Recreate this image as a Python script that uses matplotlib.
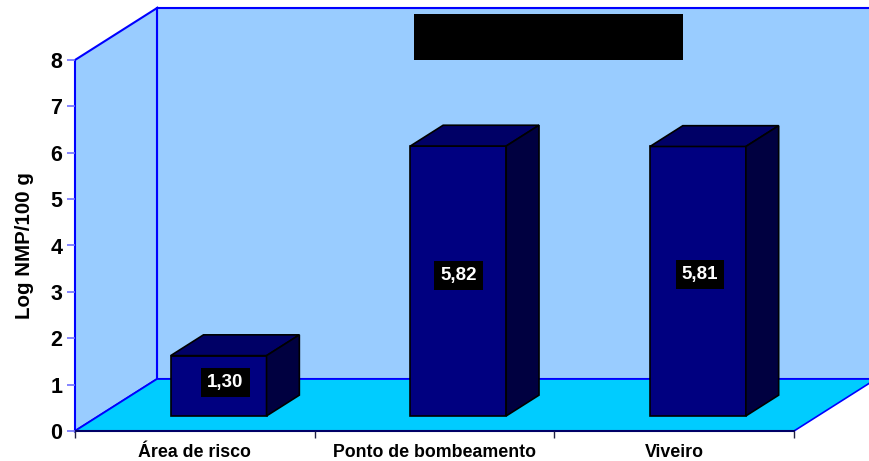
import numpy as np
import matplotlib
matplotlib.use('Agg')
import matplotlib.pyplot as plt
from matplotlib.patches import Polygon, Rectangle

plt.rcParams['font.family'] = ['Liberation Sans', 'DejaVu Sans']

# Dados do grafico
categorias = ['Área de risco', 'Ponto de bombeamento', 'Viveiro']
valores = [1.30, 5.82, 5.81]
rotulos = ['1,30', '5,82', '5,81']
yticks = [0, 1, 2, 3, 4, 5, 6, 7, 8]

# Deslocamento da profundidade em unidades dos dados
DX = 82 / 239.7
DY = 52 / 46.4
LARGURA = 0.4
Z1, Z2 = 0.29, 0.69
# ajuste dos rotulos em pontos
ajuste = [(5.0, -1.5), (0, 0), (1.5, 1)]


def proj(x, y, z):
    return (x + z * DX, y + z * DY)


def face(ax, pts, fc, ec, lw=1.2, zorder=2):
    ax.add_patch(Polygon(pts, closed=True, facecolor=fc, edgecolor=ec, linewidth=lw,
                         clip_on=False, zorder=zorder, joinstyle='miter'))


fig = plt.figure(figsize=(8.69, 4.61), dpi=100)
ax = fig.add_axes([75 / 869, 30 / 461, 719 / 869, 371 / 461])
ax.set_xlim(0, 3)
ax.set_ylim(0, 8)
ax.patch.set_visible(False)
for s in ax.spines.values():
    s.set_visible(False)

# paredes e chao
azul = '#0000ff'
face(ax, [proj(0, 0, 1), proj(3, 0, 1), proj(3, 8, 1), proj(0, 8, 1)], '#99ccff', azul, 1.5, 1)
face(ax, [proj(0, 0, 0), proj(0, 0, 1), proj(0, 8, 1), proj(0, 8, 0)], '#99ccff', azul, 1.5, 1)
face(ax, [proj(0, 0, 0), proj(3, 0, 0), proj(3, 0, 1), proj(0, 0, 1)], '#00ccff', azul, 1.2, 1)
ax.plot([0, 3], [0, 0], color='#000066', lw=1.5, clip_on=False, zorder=1.5)

# barras
for i, (v, r) in enumerate(zip(valores, rotulos)):
    x0 = i + 0.5 - LARGURA / 2
    x1 = i + 0.5 + LARGURA / 2
    face(ax, [proj(x0, 0, Z1), proj(x1, 0, Z1), proj(x1, v, Z1), proj(x0, v, Z1)], '#000080', 'black')
    face(ax, [proj(x0, v, Z1), proj(x1, v, Z1), proj(x1, v, Z2), proj(x0, v, Z2)], '#000066', 'black')
    face(ax, [proj(x1, 0, Z1), proj(x1, 0, Z2), proj(x1, v, Z2), proj(x1, v, Z1)], '#000040', 'black')
    cx, cy = proj(i + 0.5, v / 2, Z1)
    ax.annotate(r, (cx, cy + 0.12), xytext=ajuste[i], textcoords='offset points', color='white',
                fontsize=13.5, fontweight='bold', ha='center', va='center', zorder=3,
                bbox=dict(facecolor='black', edgecolor='none', pad=4.3))

# eixos
ax.set_yticks(yticks)
ax.tick_params(axis='y', length=6, width=1.2, color='#7070ff', labelsize=15.5, pad=3)
ax.set_xticks([0, 1, 2, 3])
ax.set_xticklabels([])
ax.tick_params(axis='x', which='major', length=5, width=1, color='#222244')
ax.set_xticks(np.arange(len(categorias)) + 0.5, categorias, minor=True)
ax.tick_params(axis='x', which='minor', length=0, labelsize=12.8, pad=9)
for t in ax.get_xticklabels(minor=True) + ax.get_yticklabels():
    t.set_fontweight('bold')
ax.set_ylabel('Log NMP/100 g', fontsize=14.8, fontweight='bold')
ax.yaxis.set_label_coords(-41 / 719, 0.5)

# caixa preta sobre a legenda
fig.add_artist(Rectangle((414 / 869, 1 - 60 / 461), 269 / 869, 46 / 461, transform=fig.transFigure,
                         facecolor='black', edgecolor='none', zorder=5))

plt.savefig('out.png', dpi=100)
